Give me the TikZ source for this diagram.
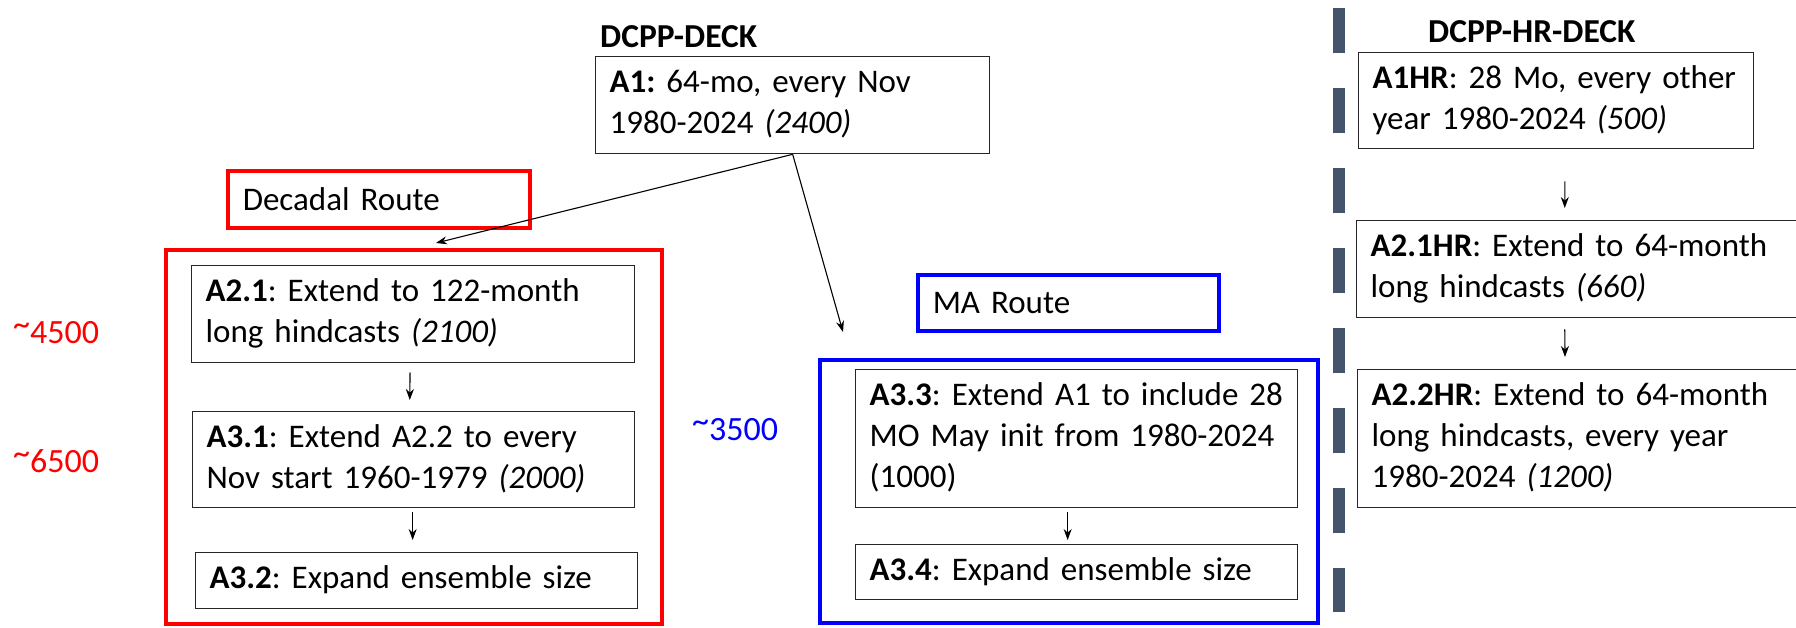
\documentclass[tikz,border=0pt]{standalone}
\usepackage{fontspec}
\setmainfont{Carlito}
\usetikzlibrary{calc,arrows.meta}

\definecolor{ardoise}{HTML}{44546A}
\frenchspacing

% tilde haut, comme dans l'original
\newcommand{\env}{\raisebox{0.22em}{\textasciitilde}}
% lignes sans coupure automatique
\newcommand{\lignes}[1]{\begin{tabular}{@{}l@{}}#1\end{tabular}}

\tikzset{
  etape/.style={draw=black!85, line width=1.3pt, anchor=north west, align=left,
    inner xsep=14pt, inner ysep=0pt, font=\fontsize{33}{41}\selectfont},
  route/.style={line width=3.5pt, anchor=north west, align=left,
    inner xsep=15pt, inner ysep=0pt, font=\fontsize{33}{41}\selectfont},
  cadre/.style={line width=3.5pt, anchor=north west, inner sep=0pt},
  titre/.style={anchor=base west, inner sep=0pt, font=\fontsize{33.5}{40}\selectfont\bfseries},
  cout/.style={anchor=base west, inner sep=0pt, font=\fontsize{34}{40}\selectfont},
  fleche/.style={->, line width=1.1pt},
}

\begin{document}
\begin{tikzpicture}[x=1pt,y=-1pt,>={Stealth[length=11pt,width=8pt]}]

    % Cadre de l'image
    \useasboundingbox (0,0) rectangle (1796,627);
    \clip (0,0) rectangle (1796,627);

    % Colonne DCPP-DECK
    \node[titre] (deck) at (600,47) {DCPP-DECK};
    \node[etape, minimum width=394pt, minimum height=97pt, text width=366pt] (a1) at (595,56)
        {\lignes{\textbf{A1:} 64-mo, every Nov\\1980-2024 \textit{(2400)}}};

    % Route decennale (rouge)
    \node[route, draw=red, minimum width=302pt, minimum height=57pt, text width=272pt] (decadal) at (226,169) {Decadal Route};
    \node[cadre, draw=red, minimum width=496pt, minimum height=374pt] (zonerouge) at (164,248) {};
    \node[etape, minimum width=443pt, minimum height=97pt, text width=415pt] (a21) at (191,265)
        {\lignes{\textbf{A2.1}: Extend to 122-month\\long hindcasts \textit{(2100)}}};
    \node[etape, minimum width=442pt, minimum height=96pt, text width=414pt] (a31) at (192,411)
        {\lignes{\textbf{A3.1}: Extend A2.2 to every\\Nov start 1960-1979 \textit{(2000)}}};
    \node[etape, minimum width=442pt, minimum height=56pt, text width=414pt] (a32) at (195,552)
        {\lignes{\textbf{A3.2}: Expand ensemble size}};

    % Route MA (bleue)
    \node[route, draw=blue, minimum width=301pt, minimum height=56pt, text width=271pt] (ma) at (916,273) {MA Route};
    \node[cadre, draw=blue, minimum width=498pt, minimum height=263pt] (zonebleue) at (818,358) {};
    \node[etape, minimum width=442pt, minimum height=138pt, text width=414pt] (a33) at (855,369)
        {\lignes{\textbf{A3.3}: Extend A1 to include 28\\MO May init from 1980-2024\\(1000)}};
    \node[etape, minimum width=442pt, minimum height=55pt, text width=414pt] (a34) at (855,544)
        {\lignes{\textbf{A3.4}: Expand ensemble size}};

    % Couts
    \node[cout, red] (c4500) at (13,343) {\env4500};
    \node[cout, red] (c6500) at (13,472) {\env6500};
    \node[cout, blue] (c3500) at (692,440) {\env3500};

    % Separation
    \coordinate (sep1) at (1339,8);
    \coordinate (sep2) at (1339,612);
    \draw[ardoise, line width=12pt, dash pattern=on 45pt off 35pt] (sep1) -- (sep2);

    % Colonne DCPP-HR-DECK
    \node[titre] (hrdeck) at (1428,42) {DCPP-HR-DECK};
    \node[etape, minimum width=395pt, minimum height=96pt, text width=367pt] (a1hr) at (1358,52)
        {\lignes{\textbf{A1HR}: 28 Mo, every other\\year 1980-2024 \textit{(500)}}};
    \node[etape, minimum width=444pt, minimum height=97pt, text width=416pt] (a21hr) at (1356,220)
        {\lignes{\textbf{A2.1HR}: Extend to 64-month\\long hindcasts \textit{(660)}}};
    \node[etape, minimum width=443pt, minimum height=138pt, text width=415pt] (a22hr) at (1357,369)
        {\lignes{\textbf{A2.2HR}: Extend to 64-month\\long hindcasts, every year\\1980-2024 \textit{(1200)}}};

    % Fleches
    \coordinate (pointe1) at (436,243);
    \coordinate (pointe2) at (843,332);
    \draw[fleche] (a1.south) -- (pointe1);
    \draw[fleche] (a1.south) -- (pointe2);
    \draw[fleche, shorten <=9pt, shorten >=11pt] ($(a21.south)+(-3,0)$) -- ($(a31.north)+(-4,0)$);
    \draw[fleche, shorten <=4pt, shorten >=12pt] ($(a31.south)+(-1,0)$) -- ($(a32.north)+(-4,0)$);
    \draw[fleche, shorten <=4pt, shorten >=4pt] ($(a33.south)+(-9,0)$) -- ($(a34.north)+(-9,0)$);
    \draw[fleche, shorten <=32pt, shorten >=12pt] ($(a1hr.south)+(9,0)$) -- ($(a21hr.north)+(-14,0)$);
    \draw[fleche, shorten <=11pt, shorten >=12pt] ($(a21hr.south)+(-14,0)$) -- ($(a22hr.north)+(-14,0)$);
\end{tikzpicture}
\end{document}
